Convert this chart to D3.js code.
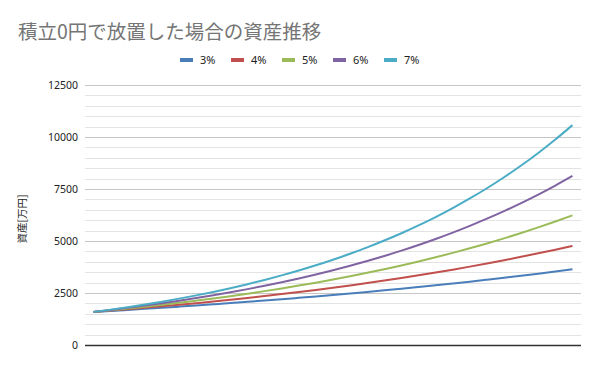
<!DOCTYPE html>
<html>
<head>
<meta charset="utf-8">
<script src="https://cdn.jsdelivr.net/npm/d3@7"></script>
<style>
  body { margin: 0; background: #fff; }
  svg { display: block; font-family: "Noto Sans CJK JP", "Noto Sans", sans-serif; }
</style>
</head>
<body>
<div class="chart"></div>
<script>
// years since start (no labels shown on the x axis)
const years = [0,1,2,3,4,5,6,7,8,9,10,11,12,13,14,15,16,17,18,19,20,21,22,23,24,25,26,27,28];

const rate3 = [1590,1638,1687,1738,1790,1844,1899,1956,2014,2075,2137,2200,2267,2335,2405,2477,2551,2628,2707,2789,2872,2958,3046,3138,3232,3329,3429,3532,3638];
const rate4 = [1590,1653,1719,1789,1860,1934,2012,2092,2176,2263,2353,2448,2546,2648,2753,2864,2978,3097,3221,3350,3484,3623,3768,3919,4076,4239,4408,4584,4768];
const rate5 = [1590,1669,1753,1841,1932,2029,2131,2237,2349,2466,2590,2719,2856,2998,3148,3305,3470,3645,3826,4018,4218,4429,4652,4884,5128,5384,5654,5936,6233];
const rate6 = [1590,1686,1787,1894,2008,2128,2255,2391,2534,2687,2848,3018,3199,3391,3595,3811,4039,4282,4538,4811,5099,5405,5730,6073,6437,6824,7233,7667,8127];
const rate7 = [1590,1701,1820,1948,2084,2230,2386,2553,2731,2923,3128,3347,3580,3831,4100,4387,4693,5023,5374,5750,6153,6583,7045,7537,8065,8630,9234,9880,10571];

const seriesNames = ["3%", "4%", "5%", "6%", "7%"];
const seriesColors = ["#4a7ebb", "#c0504d", "#9bbb59", "#8064a2", "#4bacc6"];
const yTicks = [0, 2500, 5000, 7500, 10000, 12500];

const series = [rate3, rate4, rate5, rate6, rate7].map((v, i) => ({name: seriesNames[i], color: seriesColors[i], values: v}));

const width = 600, height = 371;
const margin = {top: 85, right: 19, bottom: 26, left: 85};

const svg = d3.select(".chart")
  .append("svg")
  .attr("width", width)
  .attr("height", height);

// title
svg.append("text")
  .attr("x", 18)
  .attr("y", 39)
  .attr("font-size", 19.5)
  .attr("fill", "#757575")
  .text("積立0円で放置した場合の資産推移");

const x = d3.scalePoint()
  .domain(years)
  .range([margin.left, width - margin.right])
  .padding(0.5);

const y = d3.scaleLinear()
  .domain([0, 12500])
  .range([height - margin.bottom, margin.top]);

// minor grid every 500
const minor = d3.range(500, 12501, 500).filter(v => v % 2500 !== 0);
svg.append("g")
  .selectAll("line")
  .data(minor)
  .join("line")
    .attr("x1", margin.left)
    .attr("x2", width - margin.right)
    .attr("y1", d => Math.round(y(d)) + 0.5)
    .attr("y2", d => Math.round(y(d)) + 0.5)
    .attr("stroke", "#e3e3e3");

// major grid + labels
const yAxis = svg.append("g")
  .attr("transform", `translate(${margin.left},0)`)
  .call(d3.axisLeft(y).tickValues(yTicks).tickSize(-(width - margin.left - margin.right)).tickPadding(7).tickFormat(d3.format("d")));
yAxis.select(".domain").remove();
yAxis.selectAll(".tick line")
  .attr("stroke", d => d === 0 ? "#333" : "#c6c6c6")
  .attr("stroke-width", d => d === 0 ? 1.3 : 1);
yAxis.selectAll(".tick text")
  .attr("font-size", 10.5)
  .attr("fill", "#222")
  .style("font-family", "'Noto Sans', sans-serif");

// y axis title
svg.append("text")
  .attr("transform", `translate(26, 219) rotate(-90)`)
  .attr("text-anchor", "middle")
  .attr("font-size", 10.5)
  .attr("fill", "#222")
  .text("資産[万円]");

// lines
const line = d3.line()
  .x((d, i) => x(years[i]))
  .y(d => y(d))
  .curve(d3.curveMonotoneX);

svg.append("g")
  .selectAll("path")
  .data(series)
  .join("path")
    .attr("fill", "none")
    .attr("stroke", d => d.color)
    .attr("stroke-width", 2)
    .attr("d", d => line(d.values));

// legend
const legend = svg.append("g")
  .selectAll("g")
  .data(series)
  .join("g")
    .attr("transform", (d, i) => `translate(${180 + i * 51}, 60)`);

legend.append("rect")
  .attr("x", 0)
  .attr("y", -2)
  .attr("width", 13)
  .attr("height", 4)
  .attr("fill", d => d.color);

legend.append("text")
  .attr("x", 20)
  .attr("y", 4)
  .attr("font-size", 11)
  .attr("fill", "#222")
  .style("font-family", "'Noto Sans', sans-serif")
  .text(d => d.name);
</script>
</body>
</html>
